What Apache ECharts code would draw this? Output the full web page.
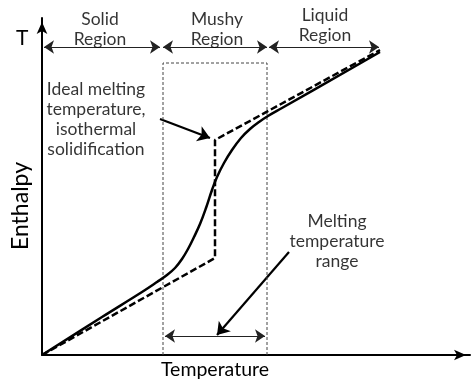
<!DOCTYPE html>
<html>
<head>
<meta charset="utf-8">
<script src="https://cdn.jsdelivr.net/npm/echarts@6/dist/echarts.min.js"></script>
<style>
  html, body { margin: 0; padding: 0; background: #fff; }
  #chart { width: 472px; height: 381px; }
</style>
</head>
<body>
<div id="chart"></div>
<script>
// Enthalpy vs temperature for a material melting over a range (schematic units)
const axisMaxT = 428;
const axisMaxH = 337;

// Real behaviour: smooth rise through the mushy zone
const actualCurve = [
  [0, 0], [60, 38], [100, 63], [115, 73], [125, 80], [133, 87], [140, 96], [146, 106],
  [152, 118], [158, 131], [164, 147], [170, 165], [175, 178], [182, 192],
  [190, 205], [199, 217], [208, 226], [217, 233], [226, 239], [240, 247], [338, 303]
];

// Ideal case: isothermal jump at the melting temperature
const idealCurve = [[0, 0], [173, 97], [173, 215], [338, 305]];

// Mushy region bounds (onset / end of melting) and box top
const mushyStart = 121;
const mushyEnd = 225;
const mushyBoxTop = 292;

// Region spans shown along the top
const regionBands = [
  { name: 'Solid\nRegion', from: 2, to: 118, labelAt: [58, 326] },
  { name: 'Mushy\nRegion', from: 121, to: 225, labelAt: [175, 326] },
  { name: 'Liquid\nRegion', from: 227, to: 337, labelAt: [283, 330] }
];
const regionArrowLevel = 308;

// Melting range arrow near the temperature axis
const rangeArrow = [[123, 19], [223, 19]];

// Callouts: text and pointer arrows
const callouts = [
  { text: 'Ideal melting\ntemperature,\nisothermal\nsolidification', at: [54, 236], from: [118, 236], to: [168, 217] },
  { text: 'Melting\ntemperature\nrange', at: [295, 114], from: [247, 103], to: [175, 20] }
];

// Axis titles
const xTitle = 'Temperature';
const yTitle = 'Enthalpy';
const yEndMark = 'T';

const fontFamily = 'Lato, "Open Sans", sans-serif';
const ink = '#000';

const chart = echarts.init(document.getElementById('chart'), null, { renderer: 'canvas' });

const thinArrows = regionBands.map(b => ({ coords: [[b.from, regionArrowLevel], [b.to, regionArrowLevel]] }));
thinArrows.push({ coords: rangeArrow });

const axisCommon = {
  type: 'value',
  axisLine: { show: true, onZero: false, symbol: ['none', 'arrow'], symbolSize: [8, 12], symbolOffset: [0, -4],
    lineStyle: { color: ink, width: 2 } },
  axisTick: { show: false }, axisLabel: { show: false }, splitLine: { show: false }
};

const option = {
  backgroundColor: '#fff',
  animation: false,
  grid: { left: 42, right: 2, top: 18, bottom: 26, containLabel: false, outerBoundsMode: 'none' },
  xAxis: Object.assign({ min: 0, max: axisMaxT }, axisCommon),
  yAxis: Object.assign({ min: 0, max: axisMaxH }, axisCommon),
  graphic: [
    {
      type: 'text', left: 16, top: 28,
      style: { text: yEndMark, font: '21px ' + fontFamily, fill: ink }
    },
    {
      type: 'text', x: 215, y: 370,
      style: { text: xTitle, font: '19.5px ' + fontFamily, fill: ink, align: 'center', verticalAlign: 'middle' }
    },
    {
      type: 'text', x: 21, y: 206, rotation: Math.PI / 2,
      style: { text: yTitle, font: '23px ' + fontFamily, fill: ink, align: 'center', verticalAlign: 'middle' }
    }
  ],
  series: [
    {
      name: 'mushy box', type: 'line', symbol: 'none', silent: true,
      data: [[mushyStart, 0], [mushyStart, mushyBoxTop], [mushyEnd, mushyBoxTop], [mushyEnd, 0]],
      lineStyle: { color: '#444', width: 1, type: [3, 2] }
    },
    {
      name: 'ideal', type: 'line', symbol: 'none', silent: true,
      data: idealCurve,
      lineStyle: { color: ink, width: 2.5, type: [7, 3] }
    },
    {
      name: 'actual', type: 'line', symbol: 'none', silent: true,
      smooth: 0.4,
      data: actualCurve,
      lineStyle: { color: ink, width: 2.5 }
    },
    {
      name: 'spans', type: 'lines', coordinateSystem: 'cartesian2d', silent: true,
      symbol: ['arrow', 'arrow'], symbolSize: 10,
      lineStyle: { color: '#222', width: 1.2, opacity: 1 },
      data: thinArrows
    },
    {
      name: 'pointers', type: 'lines', coordinateSystem: 'cartesian2d', silent: true,
      symbol: ['none', 'arrow'], symbolSize: 12,
      lineStyle: { color: ink, width: 2.2, opacity: 1 },
      data: callouts.map(c => ({ coords: [c.from, c.to] }))
    },
    {
      name: 'labels', type: 'scatter', silent: true, symbolSize: 1,
      itemStyle: { color: 'rgba(0,0,0,0)' },
      label: {
        show: true, position: 'inside', formatter: '{b}',
        fontFamily, fontSize: 17.5, lineHeight: 20, color: ink, align: 'center', verticalAlign: 'middle'
      },
      data: regionBands.map(b => ({ name: b.name, value: b.labelAt }))
        .concat(callouts.map(c => ({ name: c.text, value: c.at })))
    }
  ]
};

chart.setOption(option);
</script>
</body>
</html>
